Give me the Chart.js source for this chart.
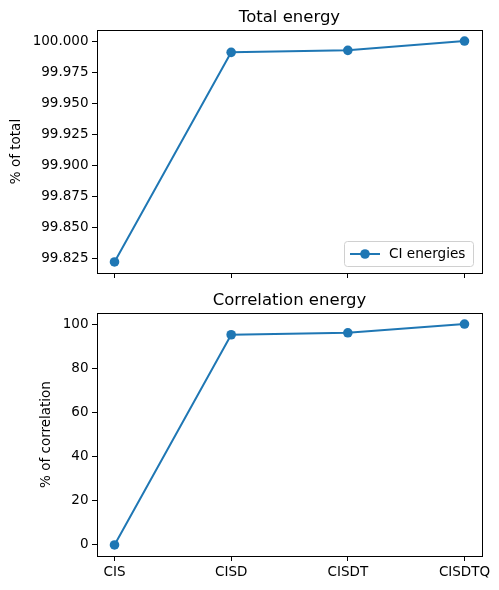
<!DOCTYPE html>
<html>
<head>
<meta charset="utf-8">
<script src="https://cdn.jsdelivr.net/npm/chart.js@4/dist/chart.umd.min.js"></script>
<style>
  html, body { margin: 0; padding: 0; background: #fff; }
  #wrap { position: relative; width: 499px; height: 590px; }
  .box { position: absolute; left: 0; width: 499px; }
</style>
</head>
<body>
<div id="wrap">
  <div class="box" style="top:0;height:290px"><canvas id="totalChart"></canvas></div>
  <div class="box" style="top:290px;height:300px"><canvas id="corrChart"></canvas></div>
</div>
<script>
  const methods = ["CIS", "CISD", "CISDT", "CISDTQ"];
  const totalPercent = [99.822, 99.9909, 99.9925, 100.000];
  const corrPercent = [0, 95.15, 96.05, 100];
  const totalTicks = [99.825, 99.850, 99.875, 99.900, 99.925, 99.950, 99.975, 100.000];
  const corrTicks = [0, 20, 40, 60, 80, 100];

  const blue = "#1f77b4";
  const tickFont = { family: "DejaVu Sans", size: 13.5 };
  const tickCss = "13.5px 'DejaVu Sans'";
  const markerR = 4.8;

  // matplotlib style 5% margins
  function padRange(arr) {
    const lo = Math.min(...arr), hi = Math.max(...arr);
    const m = (hi - lo) * 0.05;
    return { min: lo - m, max: hi + m };
  }

  // frame, title, y label and optional legend
  const framePlugin = {
    id: "frame",
    afterDraw(chart, args, opts) {
      const { ctx, chartArea: a } = chart;
      ctx.save();
      ctx.strokeStyle = "#000";
      ctx.lineWidth = 1;
      ctx.strokeRect(Math.round(a.left) + 0.5, Math.round(a.top) + 0.5,
        Math.round(a.right - a.left), Math.round(a.bottom - a.top));

      ctx.fillStyle = "#000";
      ctx.font = "16.5px 'DejaVu Sans'";
      ctx.textAlign = "center";
      ctx.textBaseline = "alphabetic";
      ctx.fillText(opts.title, (a.left + a.right) / 2, a.top - 8.5);

      // y label sits next to the widest tick label
      ctx.font = tickCss;
      const widest = Math.max(...opts.tickLabels.map(t => ctx.measureText(t).width));
      const labelLeft = a.left - 5 - 3.5 - widest;
      ctx.translate(labelLeft - 9, (a.top + a.bottom) / 2);
      ctx.rotate(-Math.PI / 2);
      ctx.textAlign = "center";
      ctx.textBaseline = "bottom";
      ctx.fillText(opts.yLabel, 0, 0);
      ctx.setTransform(1, 0, 0, 1, 0, 0);
      ctx.scale(chart.currentDevicePixelRatio, chart.currentDevicePixelRatio);

      if (opts.legend) {
        const w = 129, h = 25;
        const x = a.right - 9 - w, y = a.bottom - 7 - h;
        ctx.beginPath();
        ctx.roundRect(x + 0.5, y + 0.5, w, h, 3);
        ctx.fillStyle = "rgba(255,255,255,0.8)";
        ctx.fill();
        ctx.strokeStyle = "#d0d0d0";
        ctx.lineWidth = 1;
        ctx.stroke();
        const cy = y + h / 2 + 0.5;
        ctx.strokeStyle = blue;
        ctx.lineWidth = 2;
        ctx.beginPath();
        ctx.moveTo(x + 6, cy);
        ctx.lineTo(x + 36, cy);
        ctx.stroke();
        ctx.fillStyle = blue;
        ctx.beginPath();
        ctx.arc(x + 21, cy, markerR, 0, Math.PI * 2);
        ctx.fill();
        ctx.fillStyle = "#000";
        ctx.font = "13.6px 'DejaVu Sans'";
        ctx.textAlign = "left";
        ctx.textBaseline = "middle";
        ctx.fillText(opts.legend, x + 45, cy);
      }
      ctx.restore();
    }
  };

  function makeChart(id, values, yTicks, yDecimals, yTitle, title, legend, showXLabels, topPad, xHeight) {
    const ctx = document.getElementById(id).getContext("2d");
    const yr = padRange(values);
    return new Chart(ctx, {
      type: "line",
      data: {
        datasets: [{
          label: "CI energies",
          data: values.map((v, i) => ({ x: i, y: v })),
          borderColor: blue,
          backgroundColor: blue,
          borderWidth: 2,
          pointRadius: markerR,
          pointHoverRadius: markerR,
          pointBorderWidth: 0,
          tension: 0
        }]
      },
      options: {
        responsive: true,
        maintainAspectRatio: false,
        animation: false,
        layout: { padding: { top: topPad, right: 17, left: 0, bottom: 0 } },
        plugins: {
          legend: { display: false },
          tooltip: { enabled: false },
          frame: {
            title: title,
            legend: legend,
            yLabel: yTitle,
            tickLabels: yTicks.map(v => v.toFixed(yDecimals))
          }
        },
        scales: {
          x: {
            type: "linear",
            min: -0.15,
            max: 3.15,
            grid: { drawOnChartArea: false, color: "#000", tickLength: 5 },
            border: { display: false },
            afterBuildTicks: s => { s.ticks = methods.map((_, i) => ({ value: i })); },
            afterFit: s => { s.height = xHeight; },
            ticks: {
              display: showXLabels,
              color: "#000",
              font: tickFont,
              padding: 3,
              maxRotation: 0,
              callback: v => methods[v]
            }
          },
          y: {
            min: yr.min,
            max: yr.max,
            grid: { drawOnChartArea: false, color: "#000", tickLength: 5 },
            border: { display: false },
            afterBuildTicks: s => { s.ticks = yTicks.map(v => ({ value: v })); },
            afterFit: s => { s.width = 97; },
            ticks: {
              color: "#000",
              font: tickFont,
              padding: 3.5,
              callback: v => v.toFixed(yDecimals)
            }
          }
        }
      },
      plugins: [framePlugin]
    });
  }

  makeChart("totalChart", totalPercent, totalTicks, 3, "% of total", "Total energy", "CI energies", false, 30, 17);
  makeChart("corrChart", corrPercent, corrTicks, 0, "% of correlation", "Correlation energy", null, true, 23, 34);
</script>
</body>
</html>
